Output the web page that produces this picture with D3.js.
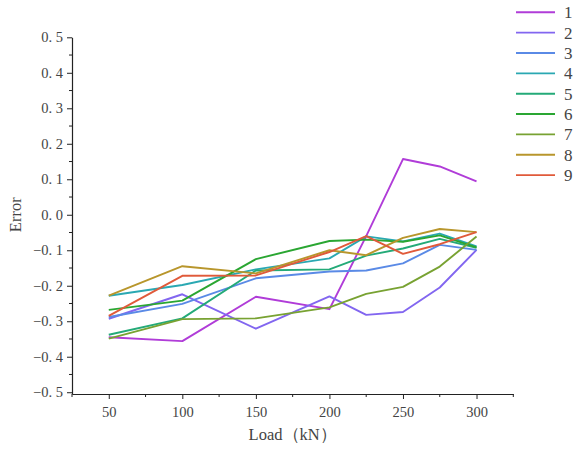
<!DOCTYPE html>
<html lang="en">
<head>
<meta charset="UTF-8">
<title>Error vs Load</title>
<style>
  body { margin: 0; background: #fff; }
  svg text { font-family: "Liberation Serif", "DejaVu Serif", serif; fill: #444; }
</style>
</head>
<body>
<div id="chart"></div>
<script src="https://cdnjs.cloudflare.com/ajax/libs/d3/7.8.5/d3.min.js"></script>
<script>

// load steps (kN)
var loads = [50, 100, 150, 200, 225, 250, 275, 300];

// error of each series at each load step
var s1 = [-0.345, -0.356, -0.231, -0.266, -0.060, 0.157, 0.136, 0.094];
var s2 = [-0.293, -0.224, -0.321, -0.230, -0.282, -0.274, -0.205, -0.099];
var s3 = [-0.288, -0.251, -0.179, -0.160, -0.157, -0.137, -0.085, -0.099];
var s4 = [-0.228, -0.198, -0.154, -0.123, -0.061, -0.075, -0.053, -0.089];
var s5 = [-0.338, -0.292, -0.157, -0.154, -0.115, -0.095, -0.068, -0.093];
var s6 = [-0.268, -0.242, -0.125, -0.074, -0.070, -0.076, -0.058, -0.092];
var s7 = [-0.349, -0.294, -0.292, -0.261, -0.223, -0.203, -0.146, -0.061];
var s8 = [-0.228, -0.145, -0.165, -0.100, -0.114, -0.065, -0.040, -0.049];
var s9 = [-0.285, -0.172, -0.171, -0.105, -0.060, -0.110, -0.083, -0.049];

var seriesNames = ["1", "2", "3", "4", "5", "6", "7", "8", "9"];
var seriesValues = [s1, s2, s3, s4, s5, s6, s7, s8, s9];
var colors = ["#b03cd8", "#8266f0", "#5a8ae6", "#2aa8b2", "#24aa78",
              "#2aa632", "#78a232", "#b8962c", "#e05a3a"];

var xTicks = [50, 100, 150, 200, 250, 300];
var xMinor = [25, 75, 125, 175, 225, 275, 325];
var yTicks = [-0.5, -0.4, -0.3, -0.2, -0.1, 0.0, 0.1, 0.2, 0.3, 0.4, 0.5];
var yMinor = [-0.45, -0.35, -0.25, -0.15, -0.05, 0.05, 0.15, 0.25, 0.35, 0.45];

var width = 578, height = 450;

var svg = d3.select("#chart").append("svg")
  .attr("width", width)
  .attr("height", height);

// scales
var x = d3.scaleLinear().domain([25, 325]).range([72, 513.3]);
var y = d3.scaleLinear().domain([-0.505, 0.5]).range([394, 37.3]);

var fmt = function(d) {
  return d3.format(".1f")(d).replace("-", "\u2212").replace(".", ". ");
};

// x axis
var gx = svg.append("g").attr("transform", "translate(0," + y(-0.505) + ")");
gx.call(d3.axisBottom(x).tickValues(xTicks).tickSize(5).tickSizeOuter(0).tickFormat(d3.format("d")));
gx.call(function(g) {
  g.selectAll(".minor").data(xMinor).enter().append("line")
    .attr("class", "minor")
    .attr("x1", function(d) { return x(d); })
    .attr("x2", function(d) { return x(d); })
    .attr("y1", 0).attr("y2", 3)
    .attr("stroke", "#222");
});
gx.select(".domain").attr("stroke", "#222").attr("stroke-width", 1.2);
gx.selectAll(".tick line").attr("stroke", "#222");
gx.selectAll(".tick text").attr("font-size", 14.5).attr("dy", "1.05em").attr("fill", "#444");

// y axis
var gy = svg.append("g").attr("transform", "translate(" + x(25) + ",0)");
gy.call(d3.axisLeft(y).tickValues(yTicks).tickSize(5).tickSizeOuter(0).tickFormat(fmt));
gy.call(function(g) {
  g.selectAll(".minor").data(yMinor).enter().append("line")
    .attr("class", "minor")
    .attr("y1", function(d) { return y(d); })
    .attr("y2", function(d) { return y(d); })
    .attr("x1", 0).attr("x2", -3)
    .attr("stroke", "#222");
});
gy.select(".domain").attr("stroke", "#222").attr("stroke-width", 1.2);
gy.selectAll(".tick line").attr("stroke", "#222");
gy.selectAll(".tick text").attr("font-size", 14.5).attr("x", -9).attr("fill", "#444");

// axis titles
svg.append("text")
  .attr("x", (x(25) + x(325)) / 2)
  .attr("y", 440)
  .attr("text-anchor", "middle")
  .attr("font-size", 16.5)
  .text("Load\uFF08kN\uFF09");

svg.append("text")
  .attr("transform", "translate(21," + y(0) + ") rotate(-90)")
  .attr("text-anchor", "middle")
  .attr("font-size", 16.5)
  .text("Error");

// lines
var line = d3.line()
  .x(function(d, i) { return x(loads[i]); })
  .y(function(d) { return y(d); });

svg.append("g").selectAll("path")
  .data(seriesValues)
  .enter().append("path")
  .attr("d", line)
  .attr("fill", "none")
  .attr("stroke", function(d, i) { return colors[i]; })
  .attr("stroke-width", 1.9)
  .attr("stroke-linejoin", "round");

// legend
var legend = svg.append("g").selectAll("g")
  .data(seriesNames)
  .enter().append("g")
  .attr("transform", function(d, i) { return "translate(516," + (12.3 + i * 20.35) + ")"; });

legend.append("line")
  .attr("x1", 0).attr("x2", 39)
  .attr("stroke", function(d, i) { return colors[i]; })
  .attr("stroke-width", 1.9);

legend.append("text")
  .attr("x", 48)
  .attr("dy", "0.35em")
  .attr("font-size", 17)
  .text(function(d) { return d; });

</script>
</body>
</html>
